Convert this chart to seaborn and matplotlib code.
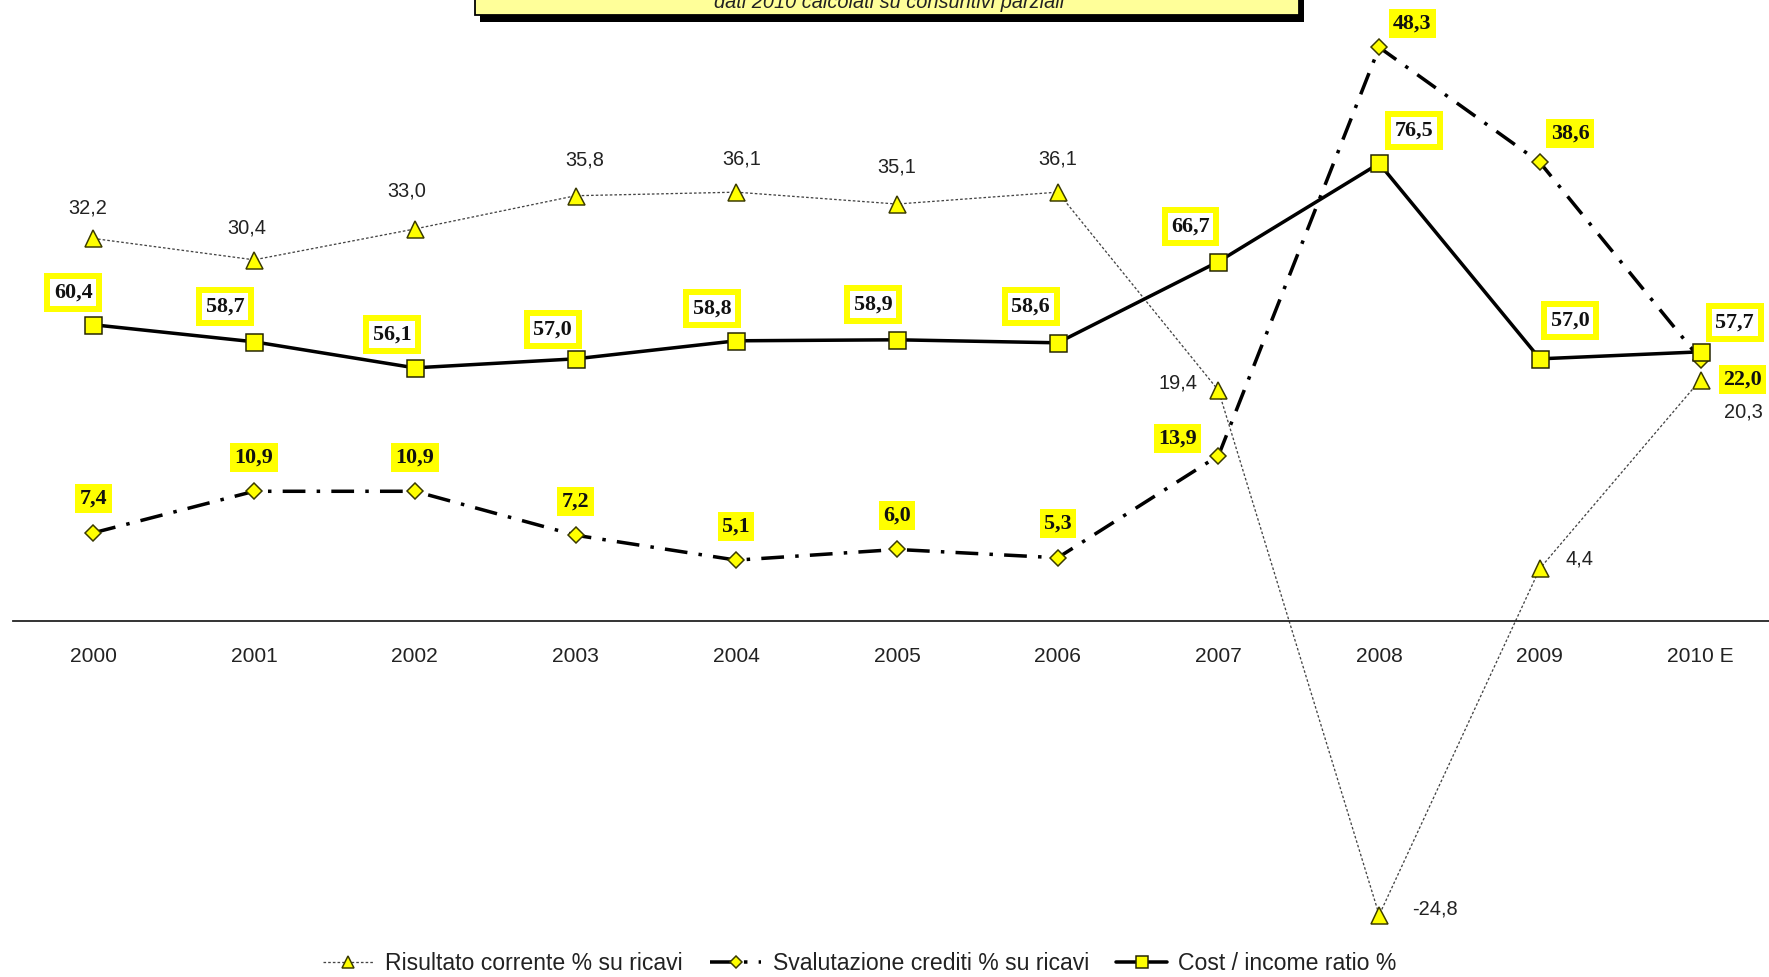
import matplotlib.pyplot as plt
import numpy as np
import seaborn as sns
from matplotlib.patches import Rectangle

# Dati
years = ["2000", "2001", "2002", "2003", "2004", "2005", "2006",
         "2007", "2008", "2009", "2010 E"]
risultato = [32.2, 30.4, 33.0, 35.8, 36.1, 35.1, 36.1, 19.4, -24.8, 4.4, 20.3]
svalutazione = [7.4, 10.9, 10.9, 7.2, 5.1, 6.0, 5.3, 13.9, 48.3, 38.6, 22.0]
cost_income = [60.4, 58.7, 56.1, 57.0, 58.8, 58.9, 58.6, 66.7, 76.5, 57.0, 57.7]

# Posizione delle etichette rispetto al punto (pixel, y verso l'alto)
off_ris = [(-6, 30), (-7, 32), (-8, 38), (9, 36), (5, 33), (0, 37), (0, 33),
           (-40, 7), (56, 6), (40, 9), (43, -32)]
off_sva = [(0, 34)] * 7 + [(-41, 17), (33, 24), (30, 29), (42, -20)]
off_ci = [(-20, 32), (-29, 35), (-23, 33), (-23, 29), (-24, 32), (-24, 35),
          (-27, 36), (-28, 35), (35, 33), (30, 38), (34, 29)]

sns.set_style("white")
plt.rcParams["font.family"] = ["Liberation Sans", "DejaVu Sans"]

W, H, DPI = 1769, 977, 72
fig = plt.figure(figsize=(W / DPI, H / DPI), dpi=DPI)
fig.patch.set_facecolor("white")

x = np.arange(len(years))
YEL = "#FFFF00"
EDGE = "#3a3a00"

ax = fig.add_axes([13 / W, 0, (1781 - 13) / W, 1])
ax2 = ax.twinx()

sns.lineplot(x=x, y=risultato, ax=ax, color="#444444", linewidth=1.3,
             linestyle=(0, (2, 1.6)), marker="^", markersize=17,
             markerfacecolor=YEL, markeredgecolor=EDGE, markeredgewidth=1.5,
             label="Risultato corrente % su ricavi", legend=False)
sns.lineplot(x=x, y=svalutazione, ax=ax, color="black", linewidth=3.5,
             linestyle=(0, (6.5, 3.2, 1, 3.2)), marker="D", markersize=11,
             markerfacecolor=YEL, markeredgecolor=EDGE, markeredgewidth=1.5,
             label="Svalutazione crediti % su ricavi", legend=False)
sns.lineplot(x=x, y=cost_income, ax=ax2, color="black", linewidth=3.5,
             marker="s", markersize=17,
             markerfacecolor=YEL, markeredgecolor="#222200", markeredgewidth=1.5,
             label="Cost / income ratio %", legend=False)

ax.set_xlim(-0.5, 10.5)
ax.set_ylim(-30.02, 52.29)
ax2.set_ylim(-4.69, 92.81)

# asse x sullo zero
for s in ["top", "left", "right"]:
    ax.spines[s].set_visible(False)
ax.spines["bottom"].set_position(("data", 0))
ax.spines["bottom"].set_color("#222222")
ax.spines["bottom"].set_linewidth(1.8)
for s in ax2.spines.values():
    s.set_visible(False)
ax2.set_yticks([])
ax.set_yticks([])
ax.set_xticks(x)
ax.set_xticklabels(years)
ax.set_xticks(np.arange(-0.5, 11, 1), minor=True)
ax.tick_params(axis="x", which="major", length=0, pad=26, labelsize=21,
               colors="#222222")
ax.tick_params(axis="x", which="minor", length=8, width=1.5, direction="out",
               colors="#222222")
ax.set_xlabel("")
ax.set_ylabel("")
ax2.set_ylabel("")
ax.patch.set_visible(False)


def fmt(v):
    return f"{v:.1f}".replace(".", ",")


for i, v in enumerate(risultato):
    ax.annotate(fmt(v), xy=(i, v), xytext=off_ris[i], textcoords="offset points",
                ha="center", va="center", fontsize=20, color="#222222")

for i, v in enumerate(svalutazione):
    ax.annotate(fmt(v), xy=(i, v), xytext=off_sva[i], textcoords="offset points",
                ha="center", va="center", fontsize=22, fontweight="bold",
                family=["Liberation Serif", "DejaVu Serif"], color="#111111",
                bbox=dict(boxstyle="square,pad=0.2", fc=YEL, ec="none"))

for i, v in enumerate(cost_income):
    ax2.annotate(fmt(v), xy=(i, v), xytext=off_ci[i], textcoords="offset points",
                 ha="center", va="center", fontsize=22, fontweight="bold",
                 family=["Liberation Serif", "DejaVu Serif"], color="#111111",
                 bbox=dict(boxstyle="square,pad=0.3", fc="white", ec=YEL, lw=6))

# riquadro del titolo (tagliato in alto, come nell'originale)
fig.add_artist(Rectangle((480 / W, (H - 22) / H), 824 / W, 40 / H,
                         transform=fig.transFigure, fc="black", ec="none"))
fig.add_artist(Rectangle((475 / W, (H - 15) / H), 824 / W, 40 / H,
                         transform=fig.transFigure, fc="#FFFF99", ec="black",
                         lw=1.8))
fig.text(889 / W, (H - 8) / H, "dati 2010 calcolati su consuntivi parziali",
         ha="center", va="baseline", fontsize=20, style="italic", color="#222222")

handles = ax.get_lines()[:2] + ax2.get_lines()[:1]
fig.legend(handles=handles, labels=[h.get_label() for h in handles],
           loc="center", bbox_to_anchor=(860 / W, 13 / H), ncol=3,
           frameon=False, fontsize=23, handlelength=2.2, columnspacing=1.2,
           handletextpad=0.5, markerscale=0.75, labelcolor="#222222")

fig.savefig("out.png", dpi=DPI, facecolor="white")
